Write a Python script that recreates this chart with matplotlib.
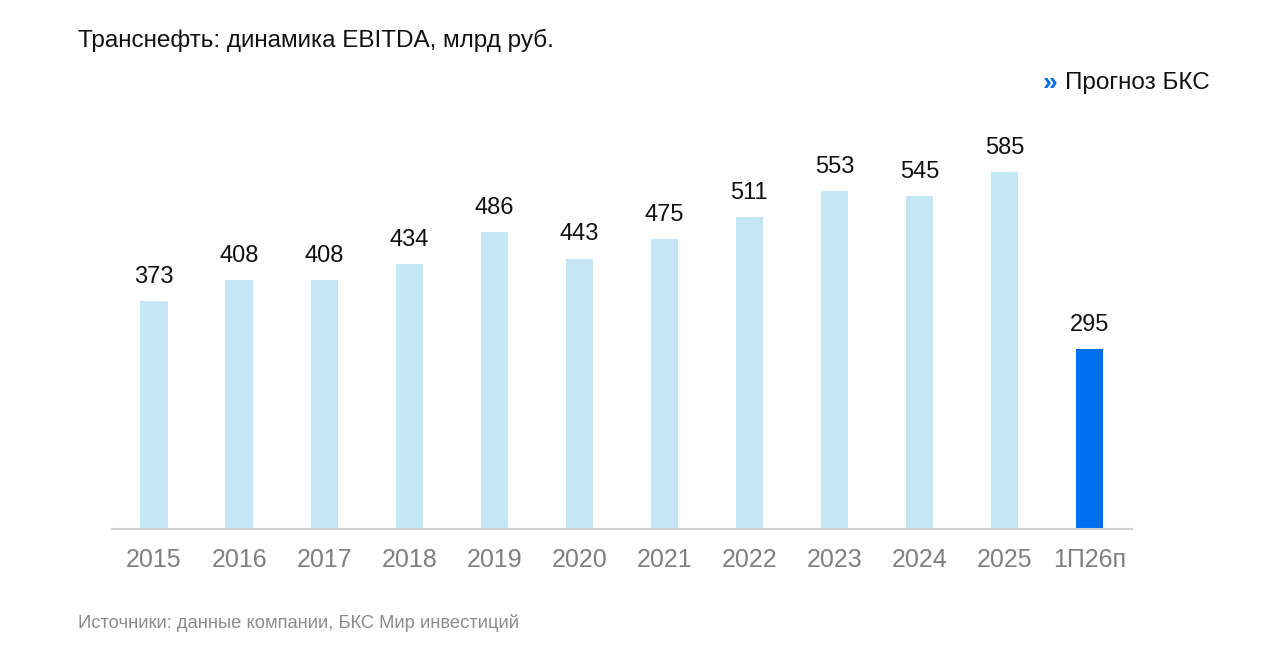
import matplotlib
matplotlib.use("Agg")
import matplotlib.pyplot as plt

plt.rcParams["font.family"] = ["Liberation Sans", "DejaVu Sans"]

categories = ["2015", "2016", "2017", "2018", "2019", "2020", "2021", "2022",
              "2023", "2024", "2025", "1П26п"]
values = [373, 408, 408, 434, 486, 443, 475, 511, 553, 545, 585, 295]
forecast = [False] * 11 + [True]

LIGHT = "#c4e6f5"
DARK = "#0070f0"

fig = plt.figure(figsize=(12.8, 6.52), dpi=100)
ax = fig.add_axes([0.0875, 0.1887, 0.797, 0.658])

x = list(range(len(categories)))
colors = [DARK if f else LIGHT for f in forecast]
ax.bar(x, values, width=0.32, color=colors)
for xi, v in zip(x, values):
    ax.text(xi, v + 22, str(v), ha="center", va="bottom", fontsize=17, color="#111111")

ax.set_xlim(-0.494, 11.5)
ax.set_ylim(0, 703)
ax.set_xticks(x)
ax.set_xticklabels(categories, fontsize=18, color="#7f7f7f")
ax.tick_params(axis="x", length=0, pad=14)
ax.set_yticks([])
for s in ["top", "right", "left"]:
    ax.spines[s].set_visible(False)
ax.spines["bottom"].set_color("#d0d0d0")
ax.spines["bottom"].set_linewidth(1.5)

fig.text(78 / 1280, 1 - 40 / 652, "Транснефть: динамика EBITDA, млрд руб.",
         fontsize=17.5, va="center", ha="left", color="#111111")
fig.text(1210 / 1280, 1 - 83 / 652, "Прогноз БКС", fontsize=17.5,
         va="center", ha="right", color="#111111")
fig.text(1057 / 1280, 1 - 83 / 652, "»", fontsize=19, fontweight="bold",
         va="center", ha="right", color=DARK)
fig.text(78 / 1280, 1 - 623 / 652, "Источники: данные компании, БКС Мир инвестиций",
         fontsize=13.2, va="center", ha="left", color="#8c8c8c")

fig.savefig("out.png", dpi=100)
